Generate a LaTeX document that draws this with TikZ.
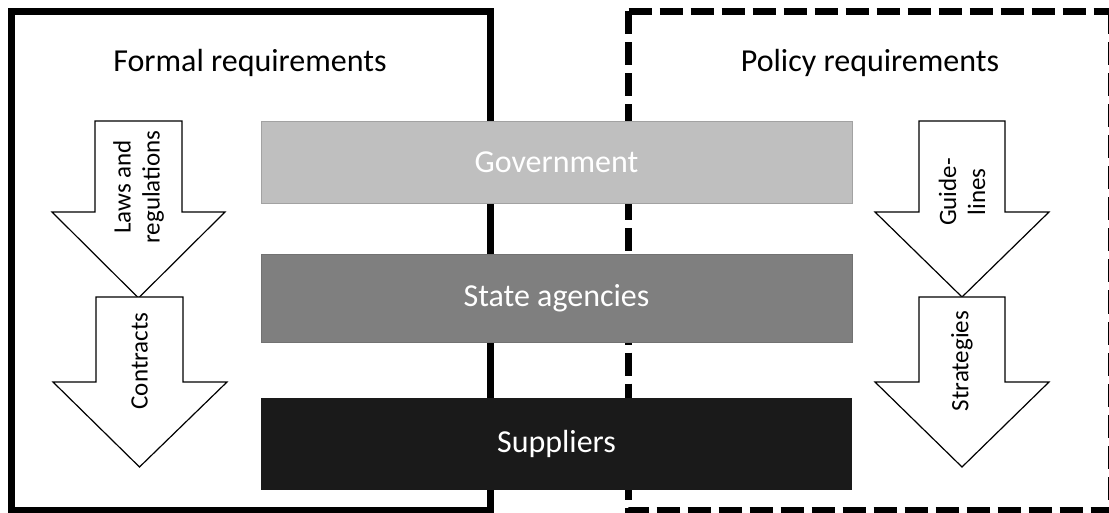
\documentclass[tikz,border=0pt]{standalone}
\usepackage{fontspec}
\setmainfont{Carlito}
\begin{document}
\begin{tikzpicture}[x=1pt,y=-1pt,
  solidframe/.style={line width=7.5pt},
  dashframe/.style={line width=7.5pt, dash pattern=on 23pt off 8pt},
  bar/.style={minimum width=591pt, inner sep=0pt, text=white,
    font=\fontsize{32}{38}\selectfont},
  blockarrow/.style={draw=black, line width=1.2pt, fill=white},
  arrowlabel/.style={rotate=90, align=center, inner sep=0pt,
    font=\fontsize{25}{29}\selectfont},
  heading/.style={anchor=base, inner sep=0pt, font=\fontsize{32}{38}\selectfont}]
\definecolor{govgray}{HTML}{BFBFBF}
\definecolor{agencygray}{HTML}{7F7F7F}
\definecolor{supplierblack}{HTML}{1A1A1A}
\useasboundingbox (0,0) rectangle (1109,513);

% formal side: solid frame
\draw[solidframe] (11.5,11.5) rectangle (490.5,510.5);
% policy side: dashed frame
\draw[dashframe] (628.5,11.5) -- (1111.5,11.5);
\draw[dashframe] (628.5,11.5) -- (628.5,510.5) -- (1111.5,510.5);
\draw[dashframe] (1111.5,11.5) -- (1111.5,510.5);

\node[heading] (formal) at (250,72) {Formal requirements};
\node[heading] (policy) at (870,72) {Policy requirements};

% block arrows, formal side
\draw[blockarrow] (95,121) -- (182,121) -- (182,212) -- (225,212) -- (138.5,298)
  -- (52,212) -- (95,212) -- cycle;
\draw[blockarrow] (96,297) -- (183,297) -- (183,382) -- (227,382) -- (139.5,467)
  -- (53,382) -- (96,382) -- cycle;
% block arrows, policy side
\draw[blockarrow] (919,121) -- (1005,121) -- (1005,212) -- (1049,212) -- (962,297)
  -- (875,212) -- (919,212) -- cycle;
\draw[blockarrow] (919,297) -- (1005,297) -- (1005,382) -- (1049,382) -- (962,467)
  -- (875,382) -- (919,382) -- cycle;

\node[arrowlabel] (laws) at (138.5,187) {Laws and\\regulations};
\node[arrowlabel] (contracts) at (139.5,361) {Contracts};
\node[arrowlabel] (guidelines) at (962,192) {Guide-\\lines};
\node[arrowlabel] (strategies) at (962,361) {Strategies};

% actor bars
\node[bar, minimum height=82pt, fill=govgray, draw=govgray!85!black, line width=0.8pt]
  (government) at (556.5,162) {Government};
\node[bar, minimum height=88pt, fill=agencygray, draw=agencygray!90!black, line width=0.8pt]
  (agencies) at (556.5,298) {State agencies};
\node[bar, minimum height=92pt, fill=supplierblack] (suppliers) at (556.5,444) {Suppliers};
\end{tikzpicture}
\end{document}
